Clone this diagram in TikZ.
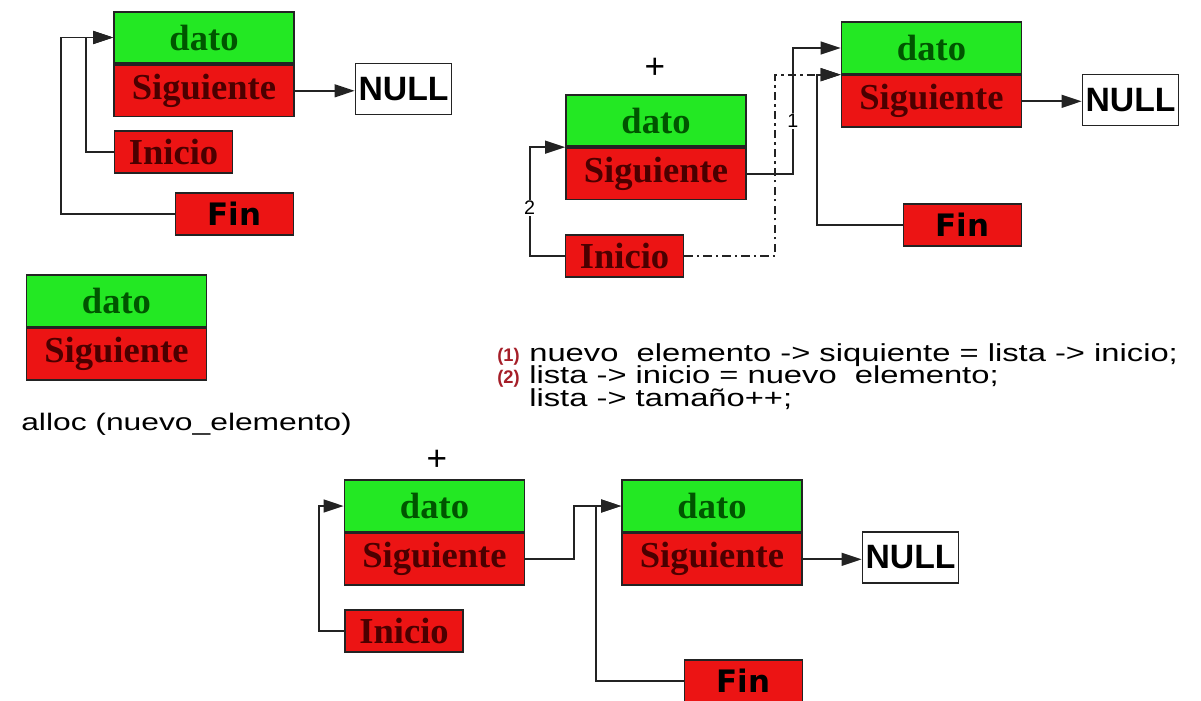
\documentclass[tikz,border=0pt]{standalone}
\usepackage{fontspec}
\setmainfont{Liberation Serif}
\newfontfamily\codefont[FakeStretch=1.33]{Liberation Sans}
\newfontfamily\boldsans{Liberation Sans}
\newfontfamily\finfont{DejaVu Sans}
\usetikzlibrary{arrows.meta}

\definecolor{cellgreen}{RGB}{35,232,35}
\definecolor{cellred}{RGB}{236,20,20}
\definecolor{datotext}{RGB}{0,85,0}
\definecolor{sigtext}{RGB}{75,0,0}
\definecolor{numred}{RGB}{165,30,40}
\definecolor{rim}{RGB}{35,35,35}

% red step number in front of a code line
\newcommand\stepnum[1]{\makebox[22.8pt][l]{\textcolor{numred}{\boldsans\fontsize{13}{13}\selectfont\bfseries(#1)}}}
% keep code lines at a fixed distance
\newcommand\codelines{\lineskiplimit=-20pt\relax}

\begin{document}
\begin{tikzpicture}[x=0.025cm,y=-0.025cm,
	cell/.style={draw=rim,line width=1.2pt,inner sep=0pt,minimum width=4.5cm,minimum height=1.29cm,font=\fontsize{26}{28}\selectfont\bfseries},
	dato/.style={cell,fill=cellgreen,text=datotext},
	sig/.style={cell,fill=cellred,text=sigtext,anchor=north},
	inicio/.style={cell,fill=cellred,text=sigtext,minimum width=2.95cm,minimum height=1.05cm},
	fin/.style={inicio,text=black,font=\finfont\fontsize{22}{24}\selectfont\bfseries},
	null/.style={cell,fill=white,text=black,minimum width=2.4cm,minimum height=1.28cm,font=\boldsans\fontsize{24}{26}\selectfont\bfseries},
	conn/.style={draw=rim,line width=1.3pt,-{Triangle[length=5mm,width=3.2mm]}},
	dashdot/.style={dash pattern=on 6pt off 3pt on 1.5pt off 3pt},
	step label/.style={fill=white,inner sep=1pt,font=\boldsans\fontsize{14}{14}\selectfont},
	plus/.style={font=\boldsans\fontsize{25}{25}\selectfont},
	code/.style={inner sep=0pt,font=\codefont\fontsize{17.5}{16}\selectfont\codelines}]
	
	\fill[white] (0,0) rectangle (1201,700);
	\useasboundingbox (0,0) rectangle (1201,700);
	
	% list with one element
	\node[dato] (datoA) at (204,37.5) {dato};
	\node[sig] (sigA) at (datoA.south) {Siguiente};
	\node[null] (nullA) at (403.5,89) {NULL};
	\node[inicio] (iniA) at (173.5,152) {Inicio};
	\node[fin] (finA) at (234.5,214) {Fin};
	
	\draw[conn] (sigA.east) -- (sigA.east -| nullA.west);
	\draw[conn] (finA.west) -- ++(-114,0) |- (datoA.west);
	\draw[conn] (iniA.west) -- ++(-28,0) |- (datoA.west);
	
	% new element
	\node[dato] (datoD) at (116.5,301) {dato};
	\node[sig] (sigD) at (datoD.south) {Siguiente};
	\node[code,anchor=base west,font=\codefont\fontsize{17}{20}\selectfont] (alloc) at (21,430) {alloc (nuevo\_elemento)};
	
	% inserting at the head
	\node[plus] (plusB) at (655,68) {+};
	\node[dato] (datoB) at (656,120.5) {dato};
	\node[sig] (sigB) at (datoB.south) {Siguiente};
	\node[inicio] (iniB) at (624.5,256) {Inicio};
	\node[dato] (datoC) at (931.5,48) {dato};
	\node[sig] (sigC) at (datoC.south) {Siguiente};
	\node[null] (nullC) at (1130.5,100) {NULL};
	\node[fin] (finC) at (962.5,225) {Fin};
	
	\draw[conn] (sigC.east) -- (sigC.east -| nullC.west);
	\draw[conn,dashdot] (iniB.east) -- ++(91,0) |- (sigC.north west);
	\draw[conn] (finC.west) -- ++(-86,0) |- (sigC.north west);
	\draw[conn] (sigB.east) -- ++(46,0) |- node[step label,pos=0.21] {1} (datoC.west);
	\draw[conn] (iniB.west) -- ++(-35,0) |- node[step label,pos=0.22] {2} (sigB.north west);
	
	\node[code,anchor=north west,align=left] (steps) at (497,343) {%
		\stepnum{1}nuevo\ \ elemento -> siquiente = lista -> inicio;\\
		\stepnum{2}lista -> inicio = nuevo\ \ elemento;\\
		\hspace*{22.8pt}lista -> tamaño++;};
	
	% result
	\node[plus] (plusE) at (437,460) {+};
	\node[dato] (datoE) at (434.5,506) {dato};
	\node[sig] (sigE) at (datoE.south) {Siguiente};
	\node[inicio] (iniE) at (404,631) {Inicio};
	\node[dato] (datoF) at (712,506) {dato};
	\node[sig] (sigF) at (datoF.south) {Siguiente};
	\node[null] (nullF) at (910.5,557.5) {NULL};
	\node[fin] (finF) at (743.5,681) {Fin};
	
	\draw[conn] (sigF.east) -- (sigF.east -| nullF.west);
	\draw[conn] (finF.west) -- ++(-88,0) |- (datoF.west);
	\draw[conn] (sigE.east) -- ++(49,0) |- (datoF.west);
	\draw[conn] (iniE.west) -- ++(-25,0) |- (datoE.west);
	
\end{tikzpicture}
\end{document}
